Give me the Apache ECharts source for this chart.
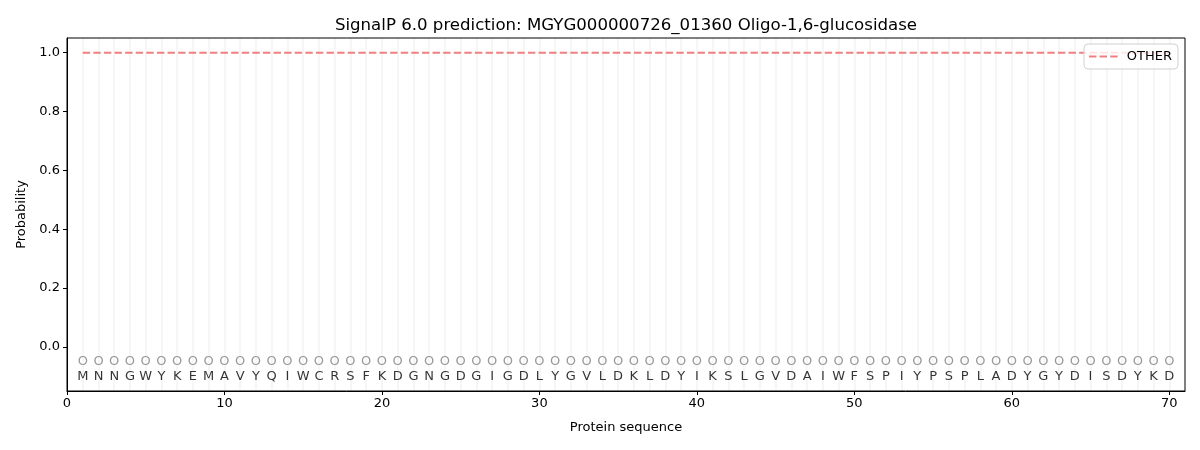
<!DOCTYPE html>
<html><head><meta charset="utf-8">
<script src="https://cdn.jsdelivr.net/npm/echarts@6/dist/echarts.min.js"></script>
<style>html,body{margin:0;padding:0;background:#fff}#c{width:1200px;height:450px}</style>
</head><body><div id="c"></div>
<script>
const sequence = ['M','N','N','G','W','Y','K','E','M','A','V','Y','Q','I','W','C','R','S','F','K','D','G','N','G','D','G','I','G','D','L','Y','G','V','L','D','K','L','D','Y','I','K','S','L','G','V','D','A','I','W','F','S','P','I','Y','P','S','P','L','A','D','Y','G','Y','D','I','S','D','Y','K','D'];
const positions = sequence.map((_, i) => i + 1);
const otherProb = positions.map(() => 1.0);
const predictedLabels = positions.map(() => 'O');
const markerY = -0.05;
const letterY = -0.1;
const yTicks = [0, 0.2, 0.4, 0.6, 0.8, 1.0];
const xTicks = [0, 10, 20, 30, 40, 50, 60, 70];

const font = 'DejaVu Sans';
const chart = echarts.init(document.getElementById('c'));
chart.setOption({
  animation: false,
  textStyle: { fontFamily: font },
  title: {
    text: 'SignalP 6.0 prediction: MGYG000000726_01360 Oligo-1,6-glucosidase',
    left: 621, textAlign: 'center', top: 12,
    textStyle: { fontFamily: font, fontSize: 16.6, fontWeight: 'normal', color: '#000' }
  },
  legend: {
    right: 22, top: 44, z: 20,
    data: [{ name: 'OTHER', icon: 'path://M0,0h7.4v2h-7.4z M10.6,0h7.4v2h-7.4z M21.2,0h7.4v2h-7.4z' }],
    orient: 'vertical',
    backgroundColor: 'rgba(255,255,255,0.8)',
    borderColor: '#d0d0d0', borderWidth: 1, borderRadius: 4,
    padding: [6, 6, 6, 5],
    itemWidth: 29, itemHeight: 2, itemGap: 5,
    textStyle: { fontFamily: font, fontSize: 13, color: '#000', padding: [0, 0, 0, 4] }
  },
  grid: { z: 10, left: 67, right: 15, top: 38, bottom: 59, show: true, borderColor: '#000', borderWidth: 1, backgroundColor: 'transparent' },
  xAxis: {
    type: 'value', min: 0, max: 71, z: 10,
    name: 'Protein sequence', nameLocation: 'middle', nameGap: 30,
    nameTextStyle: { fontFamily: font, fontSize: 13, color: '#000' },
    axisLine: { show: true, onZero: false, lineStyle: { color: '#000' } },
    axisTick: { show: true, inside: false, length: 4, lineStyle: { color: '#000' }, customValues: xTicks },
    axisLabel: { fontFamily: font, fontSize: 13, color: '#000', customValues: xTicks, margin: 6 },
    splitLine: { show: false }
  },
  yAxis: {
    type: 'value', min: -0.15, max: 1.05, z: 10,
    name: 'Probability', nameLocation: 'middle', nameGap: 38, nameRotate: 90,
    nameTextStyle: { fontFamily: font, fontSize: 13, color: '#000' },
    axisLine: { show: true, onZero: false, lineStyle: { color: '#000' } },
    axisTick: { show: true, length: 4, lineStyle: { color: '#000' }, customValues: yTicks },
    axisLabel: { fontFamily: font, fontSize: 13, color: '#000', customValues: yTicks, formatter: v => v.toFixed(1), margin: 7 },
    splitLine: { show: false }
  },
  series: [
    {
      name: 'grid', type: 'line', data: [], silent: true, z: 1,
      markLine: {
        silent: true, symbol: ['none', 'none'], label: { show: false },
        lineStyle: { color: '#f3f3f3', width: 1.5, type: 'solid' },
        data: positions.map(p => ({ xAxis: p }))
      }
    },
    {
      name: 'OTHER', type: 'line',
      data: positions.map((p, i) => [p, otherProb[i]]),
      showSymbol: false, symbol: 'none',
      lineStyle: { color: '#f08080', width: 2, type: [7.4, 3.2] },
      itemStyle: { color: '#f08080' },
      z: 5
    },
    {
      name: 'markers', type: 'scatter', symbolSize: 0,
      data: positions.map((p, i) => [p, markerY, predictedLabels[i]]),
      label: { show: true, position: 'inside', formatter: d => d.value[2], fontFamily: font, fontSize: 13, color: '#808080' },
      z: 6
    },
    {
      name: 'letters', type: 'scatter', symbolSize: 0,
      data: positions.map((p, i) => [p, letterY, sequence[i]]),
      label: { show: true, position: 'inside', formatter: d => d.value[2], fontFamily: font, fontSize: 13, color: '#000' },
      z: 6
    }
  ]
});
</script></body></html>
